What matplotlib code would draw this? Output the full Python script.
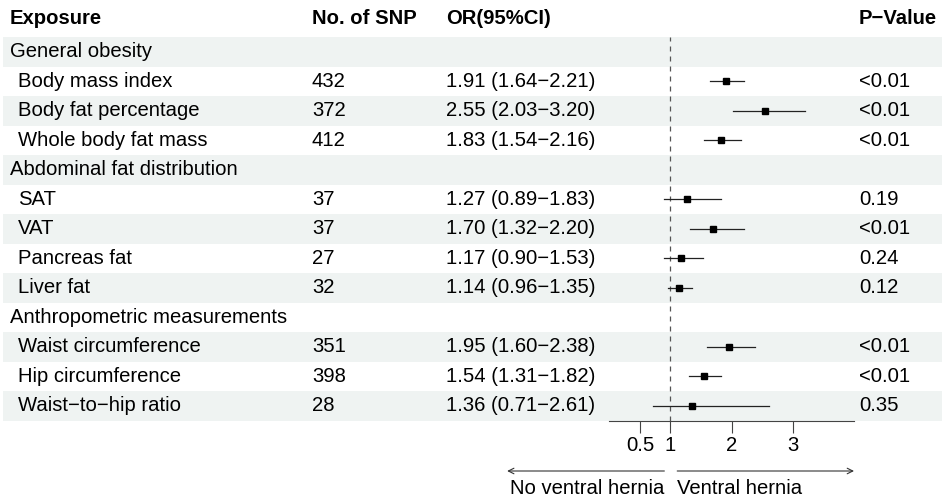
import matplotlib
matplotlib.use("Agg")
import matplotlib.pyplot as plt
from matplotlib.patches import Rectangle

plt.rcParams["font.family"] = ["Liberation Sans", "DejaVu Sans"]

# data
groups = ["General obesity", "Abdominal fat distribution", "Anthropometric measurements"]
group_sizes = [3, 4, 3]
exposures = ["Body mass index", "Body fat percentage", "Whole body fat mass",
             "SAT", "VAT", "Pancreas fat", "Liver fat",
             "Waist circumference", "Hip circumference", "Waist\u2212to\u2212hip ratio"]
n_snp = [432, 372, 412, 37, 37, 27, 32, 351, 398, 28]
or_est = [1.91, 2.55, 1.83, 1.27, 1.70, 1.17, 1.14, 1.95, 1.54, 1.36]
ci_low = [1.64, 2.03, 1.54, 0.89, 1.32, 0.90, 0.96, 1.60, 1.31, 0.71]
ci_high = [2.21, 3.20, 2.16, 1.83, 2.20, 1.53, 1.35, 2.38, 1.82, 2.61]
p_text = ["<0.01", "<0.01", "<0.01", "0.19", "<0.01", "0.24", "0.12",
          "<0.01", "<0.01", "0.35"]
x_ticks = [0.5, 1, 2, 3]

W, H = 942, 501
FS = 14.6
top, row_h = 37, 29.5
stripe = "#eff3f2"

fig = plt.figure(figsize=(W / 100, H / 100), dpi=100)

# pixel-space axes for the table text
tab = fig.add_axes([0, 0, 1, 1])
tab.set_xlim(0, W)
tab.set_ylim(H, 0)
tab.axis("off")

# build table rows: group header then its items
rows = []
k = 0
for g, n in zip(groups, group_sizes):
    rows.append(("group", g, None))
    for _ in range(n):
        rows.append(("item", exposures[k], k))
        k += 1
n_rows = len(rows)

for i in range(n_rows):
    if i % 2 == 0:
        tab.add_patch(Rectangle((3, top + i * row_h), W - 3, row_h,
                                facecolor=stripe, edgecolor="none", zorder=0))

# header
hy = 18
tab.text(10, hy, "Exposure", fontsize=FS, fontweight="bold", va="center")
tab.text(312, hy, "No. of SNP", fontsize=FS, fontweight="bold", va="center")
tab.text(446, hy, "OR(95%CI)", fontsize=FS, fontweight="bold", va="center")
tab.text(859, hy, "P\u2212Value", fontsize=FS, fontweight="bold", va="center")

for i, (kind, label, j) in enumerate(rows):
    y = top + (i + 0.5) * row_h
    if kind == "group":
        tab.text(10, y, label, fontsize=FS, va="center")
        continue
    tab.text(18, y, label, fontsize=FS, va="center")
    tab.text(312, y, str(n_snp[j]), fontsize=FS, va="center")
    tab.text(446, y, f"{or_est[j]:.2f} ({ci_low[j]:.2f}\u2212{ci_high[j]:.2f})",
             fontsize=FS, va="center")
    tab.text(859, y, p_text[j], fontsize=FS, va="center")

# forest panel
x0, x1 = 609.3, 854
y_bot = top + n_rows * row_h
fa = fig.add_axes([x0 / W, 1 - y_bot / H, (x1 - x0) / W, (y_bot - top) / H])
fa.patch.set_alpha(0)
fa.set_xlim(0, 4)
fa.set_ylim(n_rows, 0)
for s in ["top", "right", "left"]:
    fa.spines[s].set_visible(False)
fa.spines["bottom"].set_color("#444444")
fa.spines["bottom"].set_linewidth(0.8)
fa.set_yticks([])
fa.set_xticks(x_ticks)
fa.set_xticklabels(["0.5", "1", "2", "3"], fontsize=FS)
fa.tick_params(axis="x", length=8.5, width=0.8, color="#444444", pad=3)

fa.axvline(1, color="#555555", lw=0.9, ls=(0, (4, 4)), zorder=1)

for i, (kind, label, j) in enumerate(rows):
    if kind != "item":
        continue
    yc = i + 0.5
    fa.plot([ci_low[j], ci_high[j]], [yc, yc], color="#222222", lw=0.9, zorder=2)
    fa.plot(or_est[j], yc, marker="s", color="black", markersize=5, zorder=3)

# direction arrows under the axis
coords = (fa.transData, tab.transData)
ay, ty = 471, 488
fa.annotate("", xy=(-1.67, ay), xytext=(0.9, ay), xycoords=coords, textcoords=coords,
            arrowprops=dict(arrowstyle="->", lw=0.8, color="#333333",
                            shrinkA=0, shrinkB=0))
fa.annotate("", xy=(4.0, ay), xytext=(1.11, ay), xycoords=coords, textcoords=coords,
            arrowprops=dict(arrowstyle="->", lw=0.8, color="#333333",
                            shrinkA=0, shrinkB=0))
fa.annotate("No ventral hernia", xy=(0.9, ty), xycoords=coords, ha="right",
            va="center", fontsize=FS, annotation_clip=False)
fa.annotate("Ventral hernia", xy=(1.11, ty), xycoords=coords, ha="left",
            va="center", fontsize=FS, annotation_clip=False)

fig.savefig("out.png", dpi=100)
